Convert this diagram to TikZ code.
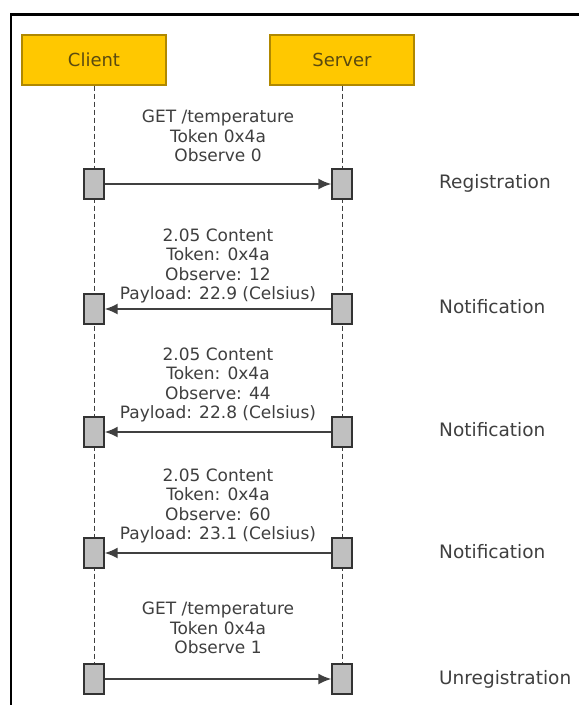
\documentclass[tikz,border=0pt]{standalone}
\usepackage{fontspec}
\setmainfont{DejaVu Sans}
\usetikzlibrary{arrows.meta}
\definecolor{actor}{HTML}{FFC800}
\definecolor{actorborder}{HTML}{B08800}
\definecolor{actortext}{HTML}{5A4A10}
\definecolor{txt}{HTML}{3F3F3F}
\definecolor{actbox}{HTML}{C0C0C0}
\begin{document}
\begin{tikzpicture}[x=1pt,y=-1pt,
  actorbox/.style={draw=actorborder,fill=actor,line width=1.2pt,minimum width=144pt,minimum height=50pt,inner sep=0pt,text=actortext,font=\fontsize{18}{21}\selectfont},
  actbar/.style={draw=black!80,fill=actbox,line width=1.3pt,minimum width=20pt,minimum height=30pt,inner sep=0pt},
  lifeline/.style={draw=black!75,line width=0.8pt,dash pattern=on 5pt off 3pt},
  msg/.style={draw=black!75,line width=1.8pt,-{Latex[length=13pt,width=11pt]}},
  msglabel/.style={align=center,text=txt,inner sep=0pt,font=\fontsize{17}{19.6}\selectfont},
  phase/.style={anchor=west,text=txt,inner sep=0pt,font=\fontsize{18.5}{21}\selectfont}]
\useasboundingbox (0,0) rectangle (579,705);
\fill[white] (0,0) rectangle (579,705);
\draw[black,line width=2.5pt] (11,720) -- (11,14.5) -- (600,14.5);

\node[actorbox] (client) at (94,60) {Client};
\node[actorbox] (server) at (342,60) {Server};

\coordinate (cend) at (94,694);
\coordinate (send) at (342,694);
\draw[lifeline] (client.south) -- (cend);
\draw[lifeline] (server.south) -- (send);

\foreach \i/\y in {1/184,2/309,3/432,4/553,5/679}{
  \node[actbar] (c\i) at (94,\y) {};
  \node[actbar] (s\i) at (342,\y) {};
}

\draw[msg] (c1.east) -- (s1.west);
\draw[msg] (s2.west) -- (c2.east);
\draw[msg] (s3.west) -- (c3.east);
\draw[msg] (s4.west) -- (c4.east);
\draw[msg] (c5.east) -- (s5.west);

\node[msglabel] (l1) at (218,136) {GET /temperature\\Token 0x4a\\Observe 0};
\node[msglabel] (l2) at (218,266) {2.05 Content\\Token: 0x4a\\Observe: 12\\Payload: 22.9 (Celsius)};
\node[msglabel] (l3) at (218,385) {2.05 Content\\Token: 0x4a\\Observe: 44\\Payload: 22.8 (Celsius)};
\node[msglabel] (l4) at (218,506) {2.05 Content\\Token: 0x4a\\Observe: 60\\Payload: 23.1 (Celsius)};
\node[msglabel] (l5) at (218,628) {GET /temperature\\Token 0x4a\\Observe 1};

\node[phase] (p1) at (439,183) {Registration};
\node[phase] (p2) at (439,307) {Notification};
\node[phase] (p3) at (439,430) {Notification};
\node[phase] (p4) at (439,552) {Notification};
\node[phase] (p5) at (439,679) {Unregistration};
\end{tikzpicture}
\end{document}
